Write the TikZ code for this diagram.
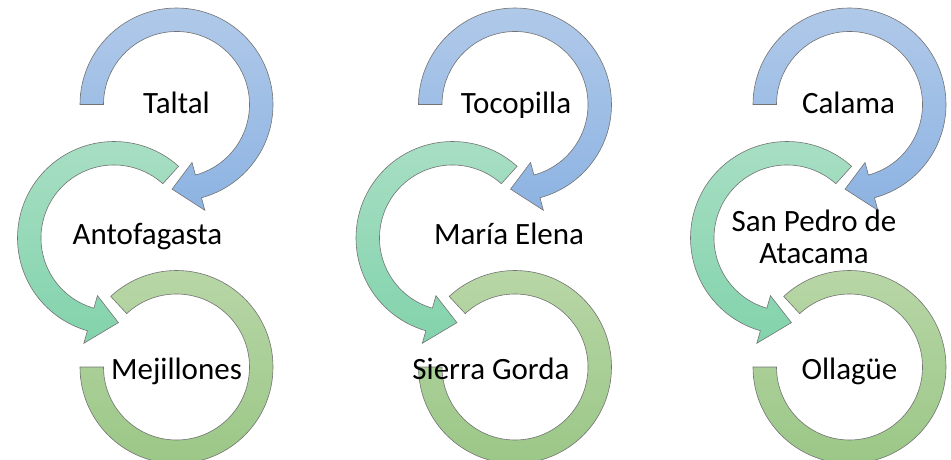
\documentclass[tikz,border=0pt]{standalone}
\usepackage{fontspec}
\setmainfont{Carlito}
\usepackage{tikz}

\definecolor{bluetop}{RGB}{176,201,233}
\definecolor{bluebot}{RGB}{141,179,226}
\definecolor{minttop}{RGB}{170,223,197}
\definecolor{mintbot}{RGB}{130,211,172}
\definecolor{greentop}{RGB}{184,214,166}
\definecolor{greenbot}{RGB}{155,199,135}

\tikzstyle{ringblue}=[draw=black!55,line width=0.6pt,top color=bluetop,bottom color=bluebot]
\tikzstyle{ringmint}=[draw=black!55,line width=0.6pt,top color=minttop,bottom color=mintbot]
\tikzstyle{ringgreen}=[draw=black!55,line width=0.6pt,top color=greentop,bottom color=greenbot]

% ring with arrow head: style, centre, start angle, base angle, tip angle
\newcommand{\ringarrow}[5]{%
	\draw[#1,shift={#2}] (#3:96.5) arc[start angle=#3,end angle=#4,radius=96.5]
		-- (#4:109.5) -- (#5:84.75) -- (#4:60) -- (#4:73)
		arc[start angle=#4,end angle=#3,radius=73] -- cycle;}
% last ring, flat ends
\newcommand{\ringend}[4]{%
	\draw[#1,shift={#2}] (#3:96.5) arc[start angle=#3,end angle=#4,radius=96.5]
		-- (#4:73) arc[start angle=#4,end angle=#3,radius=73] -- cycle;}

\begin{document}
\begin{tikzpicture}[x=1pt,y=1pt]
	\tikzstyle{place}=[font=\fontsize{31}{32}\selectfont,anchor=base,align=center]
	\useasboundingbox (0,0) rectangle (951,459);

	\ringarrow{ringblue}{(176.5,354.5)}{180}{-75}{-93}
	\ringarrow{ringmint}{(114,221)}{48}{254}{273}
	\ringend{ringgreen}{(176.5,92)}{180}{493}

	\ringarrow{ringblue}{(515,354.5)}{180}{-75}{-93}
	\ringarrow{ringmint}{(452.5,221)}{48}{254}{273}
	\ringend{ringgreen}{(515,92)}{180}{493}

	\ringarrow{ringblue}{(849.5,354.5)}{180}{-75}{-93}
	\ringarrow{ringmint}{(787,221)}{48}{254}{273}
	\ringend{ringgreen}{(849.5,92)}{180}{493}

	\node[place]	(taltal)		at (176.5,345)	{Taltal};
	\node[place]	(antofagasta)	at (147.5,215)	{Antofagasta};
	\node[place]	(mejillones)	at (176.5,80)	{Mejillones};
	\node[place]	(tocopilla)		at (516,345)	{Tocopilla};
	\node[place]	(mariaelena)	at (509,215)	{María Elena};
	\node[place]	(sierragorda)	at (491,80)		{Sierra Gorda};
	\node[place]	(calama)		at (848.5,345)	{Calama};
	\node[place,anchor=center]	(sanpedro)	at (814,222)	{San Pedro de\\Atacama};
	\node[place]	(ollague)		at (849.5,80)	{Ollagüe};
\end{tikzpicture}
\end{document}
